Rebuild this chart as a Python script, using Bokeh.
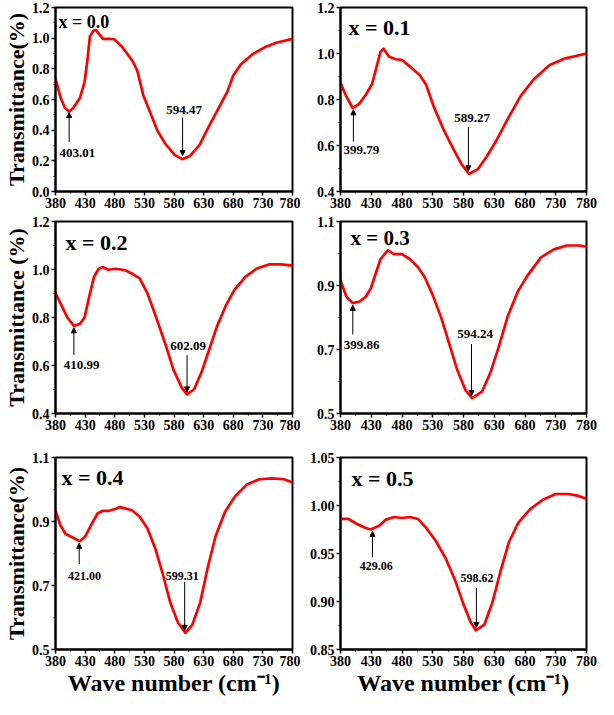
from bokeh.plotting import figure
from bokeh.layouts import column, row
from bokeh.models import FixedTicker, PrintfTickFormatter, Label, Arrow, NormalHead, Range1d
from bokeh.embed import file_html
from bokeh.resources import INLINE

FONT = "Liberation Serif"

# ---------------- data ----------------
x_ticks = [380, 430, 480, 530, 580, 630, 680, 730, 780]
x_minor = [405, 455, 505, 555, 605, 655, 705, 755]

# x = 0.0
wn_00 = [380, 389, 396, 403, 410, 421, 429, 434, 438, 444, 448, 455, 460, 471, 479, 492, 510, 518, 528, 539,
         552, 565, 581, 594, 607, 623, 638, 654, 670, 680, 693, 712, 733, 754, 780]
tr_00 = [0.735, 0.608, 0.545, 0.522, 0.545, 0.608, 0.714, 0.862, 1.01, 1.048, 1.054, 1.02, 0.995, 0.995, 0.993,
         0.946, 0.851, 0.788, 0.63, 0.524, 0.397, 0.313, 0.239, 0.211, 0.232, 0.302, 0.418, 0.534, 0.651, 0.756,
         0.83, 0.894, 0.94, 0.972, 0.995]
peaks_00 = [403.01, 594.47]
yt_00 = [0.0, 0.2, 0.4, 0.6, 0.8, 1.0, 1.2]

# x = 0.1
wn_01 = [380, 389, 399.8, 410, 420, 431, 438, 445, 450, 459, 470, 480, 493, 509, 519, 532, 548, 564, 577, 589.3,
         603, 618, 634, 652, 673, 694, 720, 746, 780]
tr_01 = [0.872, 0.816, 0.763, 0.780, 0.816, 0.865, 0.936, 1.007, 1.021, 0.986, 0.975, 0.972, 0.943, 0.905, 0.865,
         0.766, 0.667, 0.582, 0.518, 0.477, 0.496, 0.553, 0.624, 0.716, 0.816, 0.887, 0.950, 0.979, 1.0]
peaks_01 = [399.79, 589.27]
yt_01 = [0.4, 0.6, 0.8, 1.0, 1.2]

# x = 0.2
wn_02 = [380, 389.5, 400, 411, 421, 429, 437, 445, 453, 460, 469, 482, 498, 511, 522, 535, 550, 566, 579, 593,
         602, 614, 627, 640, 653, 667, 682, 701, 719, 740, 761, 780]
tr_02 = [0.902, 0.854, 0.8, 0.765, 0.773, 0.8, 0.888, 0.97, 1.003, 1.01, 0.999, 1.003, 0.997, 0.98, 0.963, 0.902,
         0.8, 0.685, 0.583, 0.508, 0.48, 0.501, 0.576, 0.671, 0.766, 0.847, 0.915, 0.97, 1.003, 1.021, 1.021, 1.016]
peaks_02 = [410.99, 602.09]
yt_02 = [0.4, 0.6, 0.8, 1.0, 1.2]

# x = 0.3
wn_03 = [380, 389.6, 399.9, 411, 421, 429, 437, 445, 457, 467, 480, 493, 506, 517, 530, 544, 557, 570, 583, 594,
         610, 623, 637, 652, 668, 684, 706, 727, 748, 769, 780]
tr_03 = [0.916, 0.865, 0.845, 0.85, 0.865, 0.89, 0.936, 0.982, 1.01, 0.998, 0.998, 0.982, 0.957, 0.926, 0.87,
         0.798, 0.717, 0.635, 0.574, 0.548, 0.568, 0.624, 0.706, 0.804, 0.88, 0.931, 0.988, 1.013, 1.025, 1.025,
         1.021]
peaks_03 = [399.86, 594.24]
yt_03 = [0.5, 0.7, 0.9, 1.1]

# x = 0.4
wn_04 = [380, 388, 397, 409, 421, 430, 440, 451, 459, 469, 482, 489, 509, 522, 535, 548, 561, 574, 587, 599.3,
         611, 624, 637, 650, 666, 682, 703, 724, 745, 766, 780]
tr_04 = [0.935, 0.889, 0.861, 0.850, 0.838, 0.853, 0.889, 0.925, 0.933, 0.933, 0.94, 0.945, 0.935, 0.915, 0.879,
         0.818, 0.736, 0.645, 0.583, 0.552, 0.578, 0.645, 0.757, 0.853, 0.930, 0.976, 1.016, 1.032, 1.035, 1.032,
         1.022]
peaks_04 = [421.00, 599.31]
yt_04 = [0.5, 0.7, 0.9, 1.1]

# x = 0.5
wn_05 = [380, 393, 406, 419, 429, 443, 453, 467, 480, 493, 506, 519, 535, 551, 567, 580, 592, 600, 614, 627,
         640, 654, 669, 688, 709, 730, 751, 767, 780]
tr_05 = [0.986, 0.986, 0.981, 0.977, 0.975, 0.979, 0.985, 0.988, 0.987, 0.988, 0.986, 0.977, 0.963, 0.945, 0.921,
         0.897, 0.878, 0.870, 0.876, 0.899, 0.931, 0.962, 0.982, 0.996, 1.006, 1.012, 1.012, 1.010, 1.007]
peaks_05 = [429.06, 598.62]
yt_05 = [0.85, 0.90, 0.95, 1.00, 1.05]

compositions = ["x = 0.0", "x = 0.1", "x = 0.2", "x = 0.3", "x = 0.4", "x = 0.5"]


def minors(ticks):
    return [(a + b) / 2 for a, b in zip(ticks[:-1], ticks[1:])]


def make_panel(wn, tr, yt, fmt, peaks, notes, tag, tag_size, tag_dx, tag_dy, note_size,
               w, h, left, right, top, bottom, ytitle=None, xtitle=None):
    p = figure(width=w, height=h, x_range=Range1d(380, 780), y_range=Range1d(yt[0], yt[-1]),
               output_backend="svg", toolbar_location=None,
               min_border_left=left, min_border_right=right, min_border_top=top, min_border_bottom=bottom,
               background_fill_color="white", border_fill_color="white")
    p.xgrid.visible = False
    p.ygrid.visible = False
    p.outline_line_color = "black"
    p.outline_line_width = 2
    p.outline_line_alpha = 1

    p.line(wn, tr, line_color="#ff0000", line_width=2.7, line_join="round", line_cap="round")

    p.xaxis.ticker = FixedTicker(ticks=x_ticks, minor_ticks=x_minor)
    p.yaxis.ticker = FixedTicker(ticks=yt, minor_ticks=minors(yt))
    p.yaxis.formatter = PrintfTickFormatter(format=fmt)
    for ax in (p.xaxis[0], p.yaxis[0]):
        ax.axis_line_width = 2
        ax.axis_line_color = "black"
        ax.major_tick_line_width = 1.5
        ax.major_tick_out = 4
        ax.major_tick_in = 0
        ax.minor_tick_line_width = 1.2
        ax.minor_tick_out = 2
        ax.minor_tick_in = 0
        ax.major_label_text_font = FONT
        ax.major_label_text_font_style = "bold"
        ax.major_label_text_font_size = "14px"
        ax.major_label_text_color = "black"
        ax.major_label_standoff = 2
        ax.axis_label_text_font = FONT
        ax.axis_label_text_font_style = "bold"
        ax.axis_label_text_color = "black"
        ax.axis_label_standoff = 0
    if ytitle:
        p.yaxis.axis_label = ytitle
        p.yaxis.axis_label_text_font_size = "22px"
    if xtitle:
        p.xaxis.axis_label = xtitle
        p.xaxis.axis_label_text_font_size = "24px"
        p.xaxis.axis_label_standoff = 1

    p.add_layout(Label(x=380, y=yt[-1], x_offset=tag_dx, y_offset=tag_dy, text=tag,
                       text_font=FONT, text_font_style="bold", text_font_size=f"{tag_size}px",
                       text_color="black", text_baseline="top", text_align="left"))

    for pk, (ax_x, y_tail, y_tip, lx, ly) in zip(peaks, notes):
        p.add_layout(Arrow(end=NormalHead(size=5, fill_color="black", line_color="black", line_width=1),
                           x_start=ax_x, y_start=y_tail, x_end=ax_x, y_end=y_tip,
                           line_color="black", line_width=1))
        p.add_layout(Label(x=lx, y=ly, text=f"{pk:.2f}", text_font=FONT, text_font_style="bold",
                           text_font_size=f"{note_size}px", text_color="black",
                           text_align="center", text_baseline="middle"))
    return p


LW, RW = 300, 298
XT = "Wave number (cm\u207b\u00b9)"

p1 = make_panel(wn_00, tr_00, yt_00, "%.1f", peaks_00,
                [(403.01, 0.323, 0.515, 417, 0.25), (594.47, 0.482, 0.235, 597, 0.534)],
                compositions[0], 18, 3, -4, 13, LW, 215, 48, 8, 7, 24, ytitle="Transmittance(%)")
p2 = make_panel(wn_01, tr_01, yt_01, "%.1f", peaks_01,
                [(401, 0.617, 0.755, 414, 0.582), (588, 0.681, 0.49, 594, 0.721)],
                compositions[1], 22, 8, -7, 13, RW, 215, 40, 12, 7, 24)
p3 = make_panel(wn_02, tr_02, yt_02, "%.1f", peaks_02,
                [(411, 0.644, 0.757, 424, 0.603), (602, 0.644, 0.49, 604, 0.682)],
                compositions[2], 22, 10, -8, 13, LW, 222, 48, 8, 6, 24, ytitle="Transmittance (%)")
p4 = make_panel(wn_03, tr_03, yt_03, "%.1f", peaks_03,
                [(400, 0.747, 0.838, 414.5, 0.715), (593, 0.717, 0.556, 599, 0.747)],
                compositions[3], 21, 10, -4, 13, RW, 222, 40, 12, 6, 24)
p5 = make_panel(wn_04, tr_04, yt_04, "%.1f", peaks_04,
                [(420, 0.767, 0.832, 429, 0.731), (598, 0.711, 0.56, 594, 0.729)],
                compositions[4], 22, 6, -7, 12, LW, 262, 48, 8, 20, 50,
                ytitle="Transmittance(%)", xtitle=XT)
p6 = make_panel(wn_05, tr_05, yt_05, "%.2f", peaks_05,
                [(432, 0.946, 0.973, 438, 0.937), (601, 0.914, 0.873, 602, 0.925)],
                compositions[5], 22, 11, -8, 12, RW, 262, 40, 12, 20, 50, xtitle=XT)

layout = column(row(p1, p2), row(p3, p4), row(p5, p6))

with open("out.html", "w") as f:
    f.write(file_html(layout, INLINE))
